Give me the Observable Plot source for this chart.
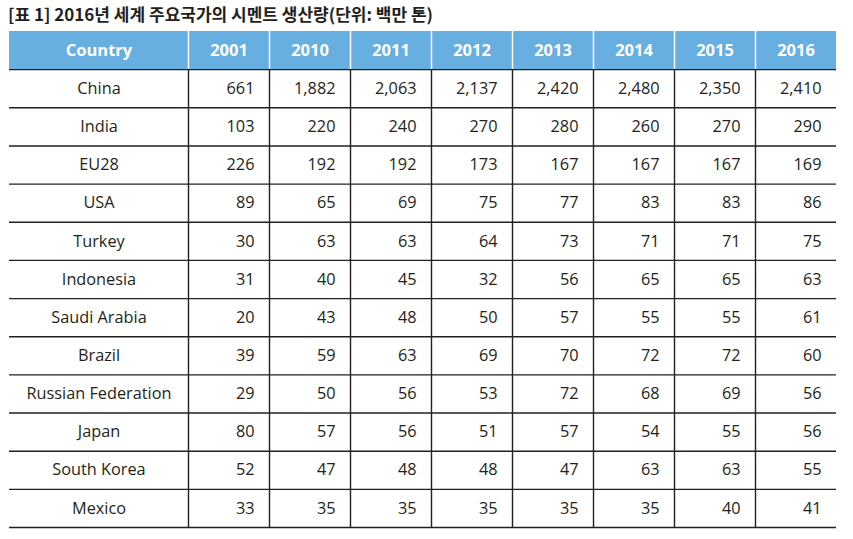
<!DOCTYPE html>
<html>
<head>
<meta charset="utf-8">
<script src="https://cdn.jsdelivr.net/npm/d3@7"></script>
<script src="https://cdn.jsdelivr.net/npm/@observablehq/plot@0.6"></script>
<style>
  body { margin: 0; background: #fff; }
  #title { height: 26px; line-height: 28px; padding-left: 8px; font-family: "Noto Sans CJK KR", sans-serif; font-size: 17px; font-weight: 700; color: #231f20; white-space: nowrap; }
</style>
</head>
<body>
<div id="title">[표 1] 2016년 세계 주요국가의 시멘트 생산량(단위: 백만 톤)</div>
<div id="chart"></div>
<script>
const countries = ["China", "India", "EU28", "USA", "Turkey", "Indonesia", "Saudi Arabia", "Brazil", "Russian Federation", "Japan", "South Korea", "Mexico"];
const years = ["2001", "2010", "2011", "2012", "2013", "2014", "2015", "2016"];
const v2001 = [661, 103, 226, 89, 30, 31, 20, 39, 29, 80, 52, 33];
const v2010 = [1882, 220, 192, 65, 63, 40, 43, 59, 50, 57, 47, 35];
const v2011 = [2063, 240, 192, 69, 63, 45, 48, 63, 56, 56, 48, 35];
const v2012 = [2137, 270, 173, 75, 64, 32, 50, 69, 53, 51, 48, 35];
const v2013 = [2420, 280, 167, 77, 73, 56, 57, 70, 72, 57, 47, 35];
const v2014 = [2480, 260, 167, 83, 71, 65, 55, 72, 68, 54, 63, 35];
const v2015 = [2350, 270, 167, 83, 71, 65, 55, 72, 69, 55, 63, 40];
const v2016 = [2410, 290, 169, 86, 75, 63, 61, 60, 56, 56, 55, 41];
const series = [v2001, v2010, v2011, v2012, v2013, v2014, v2015, v2016];

const cw = 179 / 81;             // width of the Country column in year-column units
const total = cw + years.length;
const nRows = countries.length + 1;
const ink = "#231f20";
const headerFill = "#67afe0";
const font = "'Open Sans', sans-serif";

const headers = ["Country", ...years].map((label, i) => ({label, x: i === 0 ? cw / 2 : cw + i - 0.5}));
const names = countries.map((c, i) => ({label: c, x: cw / 2, y: i + 1.5}));
const cells = [];
series.forEach((arr, j) => arr.forEach((v, i) => cells.push({v, x: cw + j + 1, y: i + 1.5})));
const hLines = d3.range(1, nRows + 1);
const vLines = d3.range(years.length).map(j => cw + j);

const fmt = d3.format(",");

const chart = Plot.plot({
  width: 853,
  height: 513,
  x: {domain: [0, total], range: [9, 836], axis: null},
  y: {domain: [0, nRows], range: [5, 501], axis: null},
  style: {fontFamily: font},
  marks: [
    Plot.rectY([0], {x1: 0, x2: total, y1: 0, y2: 1, fill: headerFill}),
    Plot.ruleX(vLines, {x: d => d, y1: 0, y2: 1, stroke: "#fff", strokeWidth: 1.5}),
    Plot.ruleX(vLines, {x: d => d, y1: 1, y2: nRows, stroke: ink, strokeWidth: 1.4}),
    Plot.ruleY(hLines, {y: d => d, x1: 0, x2: total, stroke: ink, strokeWidth: 1.4}),
    Plot.text(headers, {x: "x", y: () => 0.5, text: "label", fill: "#fff", fontWeight: "bold", fontSize: 16.5}),
    Plot.text(names, {x: "x", y: "y", text: "label", fill: ink, fontSize: 16.3}),
    Plot.text(cells, {x: "x", y: "y", text: d => fmt(d.v), fill: ink, fontSize: 16.3, textAnchor: "end", dx: -15})
  ]
});
document.getElementById("chart").append(chart);
</script>
</body>
</html>
